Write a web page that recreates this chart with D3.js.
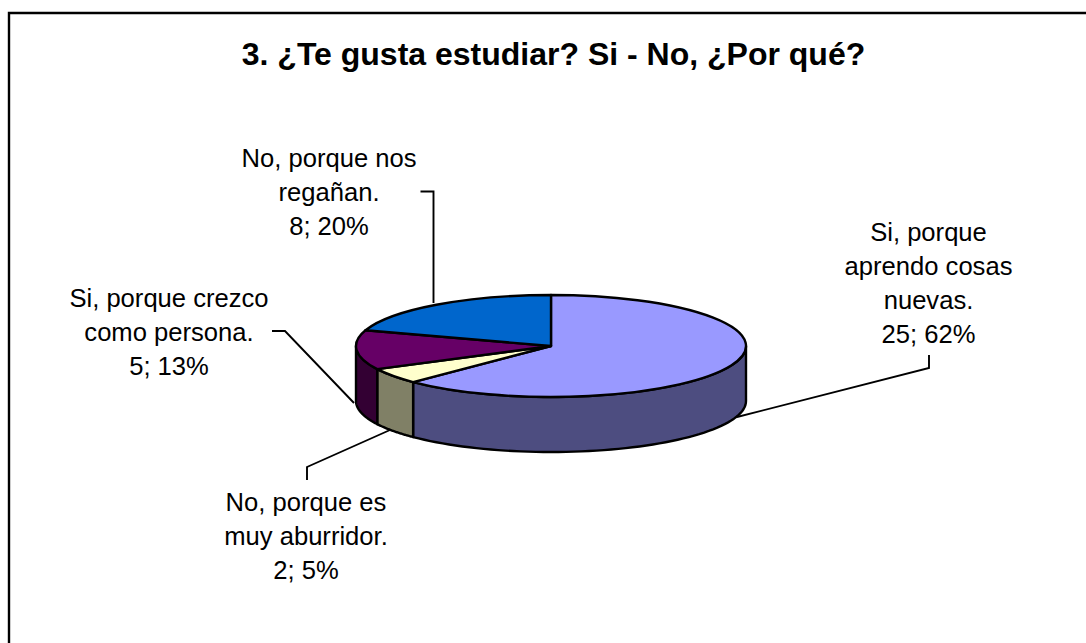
<!DOCTYPE html>
<html>
<head>
<meta charset="utf-8">
<script src="https://cdn.jsdelivr.net/npm/d3@7/dist/d3.min.js"></script>
<style>
html,body{margin:0;padding:0;background:#fff;overflow:hidden}
svg{display:block}
text{font-family:"Liberation Sans",Arial,sans-serif;fill:#000}
</style>
</head>
<body>
<svg id="c" width="1086" height="643"></svg>
<script>
const chartTitle = "3. ¿Te gusta estudiar? Si - No, ¿Por qué?";
const categories = ["Si, porque aprendo cosas nuevas.","No, porque es muy aburridor.","Si, porque crezco como persona.","No, porque nos regañan."];
const values = [25, 2, 5, 8];
const percents = ["62%","5%","13%","20%"];
const labelLines = [
  ["Si, porque","aprendo cosas","nuevas."],
  ["No, porque es","muy aburridor."],
  ["Si, porque crezco","como persona."],
  ["No, porque nos","regañan."]
];
const topColors = ["#9999FF","#FFFFCC","#660066","#0066CC"];
const sideColors = ["#4D4D80","#808066","#330033","#003366"];

// layout
const W = 1086, H = 643;
const cx = 551, cy = 346, rx = 195, ry = 51, depth = 55;
const labelPos = [
  {x:928.5, y:241},
  {x:306, y:511},
  {x:169, y:307},
  {x:329, y:167}
];
const leaders = [
  [[929,355],[929,368],[737,417]],
  [[307,480],[307,467],[390,430]],
  [[272,331],[285,331],[354,403]],
  [[420.5,191.5],[433.5,191.5],[433.5,303]]
];
const lineH = 34;

const svg = d3.select("#c");

// frame, open on the right and bottom
svg.append("path")
  .attr("d", d3.line()([[9,H],[9,13],[W,13]]))
  .attr("fill","none").attr("stroke","#000").attr("stroke-width",2.4);

svg.append("text")
  .attr("x",553.5).attr("y",65).attr("text-anchor","middle")
  .attr("font-size",32).attr("font-weight","bold")
  .text(chartTitle);

// leader lines sit behind the pie
const lineGen = d3.line();
svg.append("g").selectAll("path").data(leaders).join("path")
  .attr("d", d => lineGen(d))
  .attr("fill","none").attr("stroke","#000").attr("stroke-width",1.9);

const arcs = d3.pie().sort(null).value(d => d)(values);
const pt = (a, dy=0) => [cx + rx*Math.sin(a), cy - ry*Math.cos(a) + dy];
const frontA = Math.PI/2, frontB = Math.PI*1.5;

// walls
const walls = svg.append("g");
arcs.forEach((d,i) => {
  const a0 = Math.max(d.startAngle, frontA), a1 = Math.min(d.endAngle, frontB);
  if (a1 <= a0) return;
  const n = 60, angs = d3.range(n+1).map(k => a0 + (a1-a0)*k/n);
  const poly = angs.map(a => pt(a)).concat(angs.slice().reverse().map(a => pt(a,depth)));
  walls.append("path")
    .attr("d", lineGen(poly)+"Z")
    .attr("fill", sideColors[i]).attr("stroke","#000").attr("stroke-width",2.4)
    .attr("stroke-linejoin","round");
});

// top face
const arc = d3.arc().innerRadius(0).outerRadius(rx);
svg.append("g").attr("transform",`translate(${cx},${cy}) scale(1,${ry/rx})`)
  .selectAll("path").data(arcs).join("path")
  .attr("d", arc)
  .attr("fill",(d,i) => topColors[i])
  .attr("stroke","#000").attr("stroke-width",2.4)
  .attr("stroke-linejoin","round")
  .attr("vector-effect","non-scaling-stroke");

// labels
const lg = svg.append("g").attr("font-size",25.6).attr("text-anchor","middle");
categories.forEach((c,i) => {
  const lines = labelLines[i].concat([values[i]+"; "+percents[i]]);
  lines.forEach((t,k) => {
    lg.append("text").attr("x",labelPos[i].x).attr("y",labelPos[i].y + k*lineH).text(t);
  });
});
</script>
</body>
</html>
